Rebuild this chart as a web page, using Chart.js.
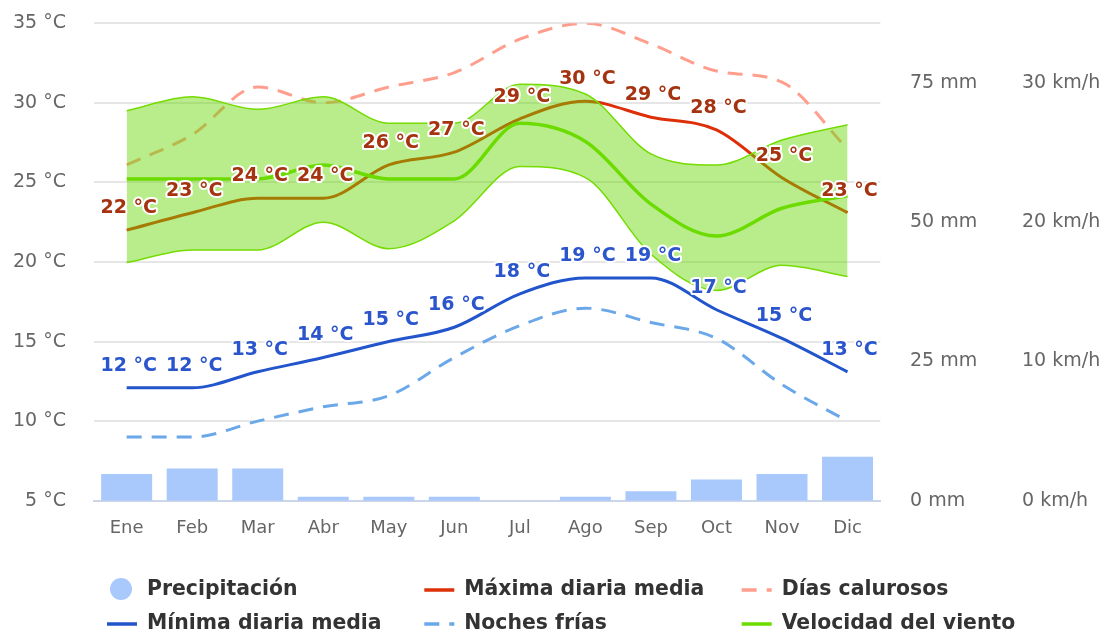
<!DOCTYPE html>
<html>
<head>
<meta charset="utf-8">
<script src="https://cdn.jsdelivr.net/npm/chart.js@4.4.1/dist/chart.umd.min.js"></script>
<style>
html,body{margin:0;padding:0;background:#fff;overflow:hidden}
canvas{display:block}
</style>
</head>
<body>
<canvas id="c" width="1114" height="637"></canvas>
<script>
const months = ['Ene','Feb','Mar','Abr','May','Jun','Jul','Ago','Sep','Oct','Nov','Dic'];
const precipitation = [4.8,5.8,5.8,0.7,0.7,0.7,0,0.7,1.7,3.8,4.8,7.9];
const maxTemp = [22.0,23.1,24.0,24.0,26.1,26.9,29.0,30.1,29.1,28.3,25.3,23.1];
const minTemp = [12.1,12.1,13.1,14.0,15.0,15.9,18.0,19.0,19.0,17.0,15.2,13.1];
const hotDays = [26.1,28.0,31.0,30.0,31.0,31.9,34.0,35.0,33.7,32.0,31.3,27.1];
const coldNights = [9.0,9.0,10.0,10.9,11.6,14.0,16.0,17.1,16.2,15.2,12.3,10.0];
const windMean = [23.1,23.1,23.1,24.1,23.1,23.1,27.1,25.8,21.3,19.0,21.0,21.9];
const windHigh = [28.0,29.0,28.1,29.0,27.1,27.1,29.9,29.2,24.9,24.1,25.9,27.0];
const windLow = [17.1,18.0,18.0,20.0,18.1,20.1,24.0,23.2,17.7,15.1,16.9,16.1];
const tempTicks = [5,10,15,20,25,30,35];
const precipTicks = [0,25,50,75];
const windTicks = [0,10,20,30];

const FONT = '"DejaVu Sans", Verdana, sans-serif';
Chart.defaults.font.family = FONT;

const labelPlugin = {
  id: 'tempLabels',
  afterDatasetsDraw(chart) {
    const ctx = chart.ctx;
    const targets = [[3, '#a5330f'], [4, '#2a55cc']];
    targets.forEach(([i, color]) => {
      const meta = chart.getDatasetMeta(i);
      const data = chart.data.datasets[i].data;
      meta.data.forEach((pt, j) => {
        const txt = Math.round(data[j]) + ' °C';
        ctx.save();
        ctx.font = 'bold 19px ' + FONT;
        ctx.textAlign = 'center';
        ctx.textBaseline = 'middle';
        ctx.lineJoin = 'round';
        ctx.lineWidth = 4;
        ctx.strokeStyle = '#ffffff';
        ctx.strokeText(txt, pt.x + 2, pt.y - 22);
        ctx.fillStyle = color;
        ctx.fillText(txt, pt.x + 2, pt.y - 22);
        ctx.restore();
      });
    });
  }
};

const legendPlugin = {
  id: 'gridLegend',
  afterDraw(chart) {
    const ctx = chart.ctx;
    const ds = chart.data.datasets;
    const items = [
      {i: 0, col: 0, row: 0, kind: 'circle'},
      {i: 3, col: 1, row: 0, kind: 'line'},
      {i: 1, col: 2, row: 0, kind: 'dash'},
      {i: 4, col: 0, row: 1, kind: 'line'},
      {i: 2, col: 1, row: 1, kind: 'dash'},
      {i: 7, col: 2, row: 1, kind: 'line'}
    ];
    const symX = [107, 424.3, 741.7];
    const txtX = [147, 464.3, 781.7];
    const rowY = [590, 624];
    items.forEach(it => {
      const d = ds[it.i];
      const y = rowY[it.row];
      ctx.save();
      if (it.kind === 'circle') {
        ctx.fillStyle = d.backgroundColor;
        ctx.beginPath();
        ctx.arc(121, y - 1, 11, 0, Math.PI * 2);
        ctx.fill();
      } else {
        ctx.strokeStyle = d.borderColor;
        ctx.lineWidth = 3.5;
        ctx.setLineDash(it.kind === 'dash' ? [15, 10] : []);
        ctx.beginPath();
        ctx.moveTo(symX[it.col], y);
        ctx.lineTo(symX[it.col] + 30, y);
        ctx.stroke();
      }
      ctx.restore();
      ctx.save();
      ctx.font = 'bold 20.4px ' + FONT;
      ctx.fillStyle = '#333333';
      ctx.textAlign = 'left';
      ctx.textBaseline = 'middle';
      ctx.fillText(d.label, txtX[it.col], y);
      ctx.restore();
    });
  }
};

const lineBase = {
  type: 'line',
  pointRadius: 0,
  pointHoverRadius: 0,
  cubicInterpolationMode: 'monotone',
  fill: false,
  borderCapStyle: 'butt'
};

function noVPad(s) { s.paddingTop = 0; s.paddingBottom = 0; }

new Chart(document.getElementById('c'), {
  type: 'bar',
  data: {
    labels: months,
    datasets: [
      {type: 'bar', label: 'Precipitación', data: precipitation, yAxisID: 'mm',
       backgroundColor: '#a9c8fc', categoryPercentage: 1, barPercentage: 0.778, order: 20},
      Object.assign({}, lineBase, {label: 'Días calurosos', data: hotDays, yAxisID: 'y',
       borderColor: '#ff9e8c', borderWidth: 3, borderDash: [15, 10], order: 18}),
      Object.assign({}, lineBase, {label: 'Noches frías', data: coldNights, yAxisID: 'y',
       borderColor: '#6aa8ea', borderWidth: 3, borderDash: [15, 10], order: 17}),
      Object.assign({}, lineBase, {label: 'Máxima diaria media', data: maxTemp, yAxisID: 'y',
       borderColor: '#dd3008', borderWidth: 3, order: 16}),
      Object.assign({}, lineBase, {label: 'Mínima diaria media', data: minTemp, yAxisID: 'y',
       borderColor: '#2255cc', borderWidth: 3, order: 15}),
      Object.assign({}, lineBase, {label: 'Viento máx', data: windHigh, yAxisID: 'wind',
       borderColor: '#74dc00', borderWidth: 1.5, fill: {target: 6}, backgroundColor: 'rgba(100,215,0,0.45)', order: 4}),
      Object.assign({}, lineBase, {label: 'Viento mín', data: windLow, yAxisID: 'wind',
       borderColor: '#74dc00', borderWidth: 1.5, order: 3}),
      Object.assign({}, lineBase, {label: 'Velocidad del viento', data: windMean, yAxisID: 'wind',
       borderColor: '#6cdc00', borderWidth: 3.5, order: 1})
    ]
  },
  options: {
    responsive: false,
    animation: false,
    devicePixelRatio: 1,
    layout: {padding: {top: 23.3, bottom: 86.3, left: 0, right: 0}},
    plugins: {legend: {display: false}, tooltip: {enabled: false}},
    events: [],
    scales: {
      x: {
        type: 'category', offset: true,
        grid: {display: false, drawTicks: false},
        border: {display: true, color: '#ccd6eb', width: 2},
        ticks: {color: '#666666', font: {size: 18}, padding: 16.5, maxRotation: 0, autoSkip: false},
        afterFit(s) { s.height = 50; }
      },
      y: {
        position: 'left', min: 5, max: 35,
        grid: {color: c => (c.tick && c.tick.value === 5) ? 'rgba(0,0,0,0)' : '#e6e6e6', lineWidth: 2, drawTicks: false},
        border: {display: false},
        ticks: {color: '#666666', font: {size: 19}, padding: 28, callback: v => v + ' °C'},
        afterBuildTicks(s) { s.ticks = tempTicks.map(v => ({value: v})); },
        afterFit(s) { s.width = 93.9; noVPad(s); }
      },
      mm: {
        position: 'right', weight: 1, min: 0, max: 85.7,
        grid: {display: false, drawTicks: false},
        border: {display: false},
        ticks: {color: '#666666', font: {size: 19}, padding: 29.7, callback: v => v + ' mm'},
        afterBuildTicks(s) { s.ticks = precipTicks.map(v => ({value: v})); },
        afterFit(s) { s.width = 111.7; noVPad(s); }
      },
      wind: {
        position: 'right', weight: 2, min: 0, max: 34.28,
        grid: {display: false, drawTicks: false},
        border: {display: false},
        ticks: {color: '#666666', font: {size: 19}, padding: 30, callback: v => v + ' km/h'},
        afterBuildTicks(s) { s.ticks = windTicks.map(v => ({value: v})); },
        afterFit(s) { s.width = 122; noVPad(s); }
      }
    }
  },
  plugins: [labelPlugin, legendPlugin]
});
</script>
</body>
</html>
